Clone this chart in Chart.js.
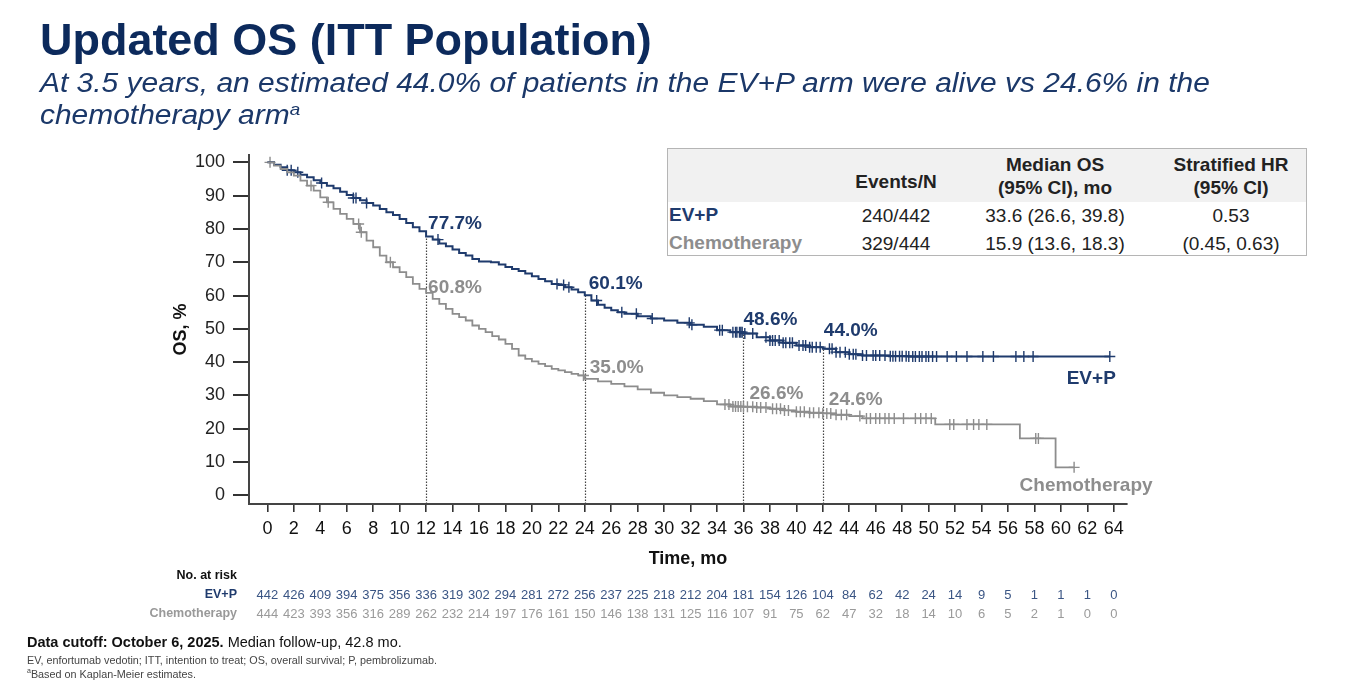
<!DOCTYPE html>
<html><head><meta charset="utf-8">
<script src="https://cdn.jsdelivr.net/npm/chart.js@4.4.1/dist/chart.umd.min.js"></script>
<style>
html,body{margin:0;padding:0;background:#fff;}
body{width:1348px;height:680px;position:relative;overflow:hidden;font-family:"Liberation Sans",Arial,Helvetica,sans-serif;}
#c{position:absolute;left:0;top:0;}
.t{position:absolute;white-space:nowrap;}
#title{left:40px;top:15px;font-size:44px;font-weight:bold;color:#0c2a5c;line-height:50px;transform-origin:0 0;}
.sub{left:40px;font-size:27px;font-style:italic;color:#1b3869;line-height:30px;transform-origin:0 0;}
#sub1{top:68px;}
#sub2{top:100px;}
.sub sup{font-size:17px;vertical-align:9px;line-height:0;}
#stats{position:absolute;left:667px;top:148px;width:640px;height:108px;border:1.5px solid #b5b5b5;box-sizing:border-box;background:#fff;}
#stats .hd{position:absolute;left:0;top:0;width:100%;height:53px;background:#f1f1f1;}
.st{position:absolute;white-space:nowrap;font-size:19px;color:#222;transform:translate(-50%,-50%);text-align:center;line-height:23px;}
.sb{font-weight:bold;}
.rl{position:absolute;white-space:nowrap;font-size:19px;font-weight:bold;transform:translateY(-50%);}
.risk{position:absolute;white-space:nowrap;font-size:13px;transform:translate(-50%,-50%);}
.rlab{position:absolute;white-space:nowrap;font-size:12.5px;font-weight:bold;transform:translate(-100%,-50%);}
#foot1{left:27px;top:634px;font-size:14.5px;color:#111;}
#foot2{left:27px;top:654px;font-size:10.8px;color:#444;}
#foot3{left:27px;top:667px;font-size:10.8px;color:#444;}
</style>
</head><body>
<canvas id="c" width="1348" height="680"></canvas>
<div class="t" id="title">Updated OS (ITT Population)</div>
<div class="t sub" id="sub1">At 3.5 years, an estimated 44.0% of patients in the EV+P arm were alive vs 24.6% in the</div>
<div class="t sub" id="sub2">chemotherapy arm<sup>a</sup></div>
<div id="stats"><div class="hd"></div></div>
<div class="t" id="foot1"><b>Data cutoff: October 6, 2025.</b> Median follow-up, 42.8 mo.</div>
<div class="t" id="foot2">EV, enfortumab vedotin; ITT, intention to treat; OS, overall survival; P, pembrolizumab.</div>
<div class="t" id="foot3"><sup style="font-size:7px">a</sup>Based on Kaplan-Meier estimates.</div>
<script>
// ---------- DATA ----------
const armNames = ["EV+P", "Chemotherapy"];
const evTime = [0,0.5,1,1.5,2,2.5,3,3.5,4,4.5,5,5.5,6,6.5,7,7.5,8,8.5,9,9.5,10,10.5,11,11.5,12,12.5,13,13.5,14,14.5,15,15.5,16,16.9,17.5,18,18.5,19,19.5,20,20.5,21,21.5,22,22.5,23,23.5,24,24.5,25,25.5,26,26.5,27,28,29,30,31,32,33,34,35,36,37,38,39,40,41,42,43,44,45,47,48.5,63.7];
const evSurv = [100,99.3,98.5,97.6,97,96.3,95.5,94.6,93.8,93,92.2,91.2,90.2,89.3,88.6,87.8,87,86,85,84.2,83,81.8,80.5,79.3,77.7,76.8,75.6,74.8,73.8,72.8,72,71,70.2,70,69.3,68.6,68,67.4,66.6,65.8,65,64.3,63.5,63.2,62.5,61.8,61,60.1,58.5,57.2,56.3,55.6,55,54.5,53.8,53.1,52.5,51.8,51.2,50.6,49.6,49,48.6,47.5,46.5,45.8,45,44.5,44,43,42.4,42,41.8,41.7,41.7];
const chemoTime = [0,0.5,1,1.5,2,2.5,3,3.5,4,4.5,5,5.5,6,6.5,7,7.5,8,8.5,9,9.5,10,10.5,11,11.5,12,12.5,13,13.5,14,14.5,15,15.5,16,16.5,17,17.5,18,18.5,19,19.5,20,20.5,21,21.5,22,22.5,23,23.5,24,25,26,27,28,29,30,31,32,33,34,35,36,37,38,39,40,41,42,43,44,45,50.5,56.9,59.6,61];
const chemoSurv = [100,99,98,97,96,94.5,93,91.5,89.5,88,86,84.5,83,81.5,79,76.5,74.5,72,70,68.5,67,65.5,63.5,62,60.8,59,57.5,56,54.5,53.5,52.5,51,50,49,47.8,46.8,45.5,44,42,41,40.2,39.5,38.8,38,37.5,37,36.5,36,35,34.2,33.5,32.7,31.8,30.8,30,29.5,29,28.3,27.3,26.7,26.6,26.4,26,25.5,25.1,24.8,24.6,24.2,23.8,23.1,21.3,17.1,8.4,8.4];
const evCensor = [1.5,1.8,2.3,4.1,6.5,6.7,7.5,12.9,21.9,22.4,22.8,24.9,26.8,27.9,29.1,31.9,32.1,34.2,34.4,35.2,35.4,35.5,35.7,35.8,35.9,36.1,36.7,37.7,38,38.2,38.4,38.7,39,39.2,39.5,39.7,40.2,40.5,40.7,41,41.2,41.5,41.8,42.5,42.7,43,43.3,43.7,44,44.3,44.5,45,45.3,45.8,46,46.3,46.7,47.1,47.3,47.5,47.8,48,48.3,48.5,48.8,49,49.3,49.5,49.8,50,50.3,50.6,51.4,52.1,52.9,54.1,54.9,56.6,57.2,57.9,63.7];
const chemoCensor = [0.2,3.3,4.6,6.9,7.1,9.3,23.9,34.6,34.9,35.2,35.4,35.6,35.8,36,36.3,36.7,37,37.3,37.7,38.2,38.5,38.8,39.1,39.4,40,40.3,40.6,41,41.3,41.7,42,42.3,42.6,43,43.4,43.8,44.8,45.3,45.6,46,46.3,46.7,47,47.4,48.1,49,49.4,49.8,50.2,51.6,51.9,52.9,53.4,53.8,54.4,58.1,58.3,61];
const landmarkTime = [12,24,36,42];
const landmarkEV = [77.7,60.1,48.6,44.0];
const landmarkChemo = [60.8,35.0,26.6,24.6];
const xTicks = [0,2,4,6,8,10,12,14,16,18,20,22,24,26,28,30,32,34,36,38,40,42,44,46,48,50,52,54,56,58,60,62,64];
const yTicks = [0,10,20,30,40,50,60,70,80,90,100];
const riskEV = [442,426,409,394,375,356,336,319,302,294,281,272,256,237,225,218,212,204,181,154,126,104,84,62,42,24,14,9,5,1,1,1,0];
const riskChemo = [444,423,393,356,316,289,262,232,214,197,176,161,150,146,138,131,125,116,107,91,75,62,47,32,18,14,10,6,5,2,1,0,0];
const statsHeader = ["Events/N", "Median OS\n(95% CI), mo", "Stratified HR\n(95% CI)"];
const statsEV = ["240/442", "33.6 (26.6, 39.8)", "0.53"];
const statsChemo = ["329/444", "15.9 (13.6, 18.3)", "(0.45, 0.63)"];

// ---------- STYLE ----------
const NAVY = "#1f3b6d", GRAY = "#8d8d8d";
const FONT = '"Liberation Sans", Arial, sans-serif';

function survAt(times, surv, t) {
  let v = surv[0];
  for (let i = 0; i < times.length; i++) { if (times[i] <= t) v = surv[i]; else break; }
  return v;
}
const toPts = (ts, ss) => ts.map((t, i) => ({x: t, y: ss[i]}));

// stats table
(function(){
  const box = document.getElementById('stats');
  const colX = [228, 387, 563];   // column centres inside box
  statsHeader.forEach((h, i) => {
    const d = document.createElement('div'); d.className = 'st sb';
    d.innerHTML = h.replace('\n', '<br>');
    d.style.left = colX[i] + 'px'; d.style.top = (h.includes('\n') ? 27 : 32) + 'px';
    box.appendChild(d);
  });
  [[statsEV, 66, NAVY], [statsChemo, 94, GRAY]].forEach(([row, y, col], r) => {
    const l = document.createElement('div'); l.className = 'rl';
    l.textContent = armNames[r]; l.style.left = '1px'; l.style.top = y + 'px'; l.style.color = col;
    box.appendChild(l);
    row.forEach((v, i) => {
      const d = document.createElement('div'); d.className = 'st';
      d.textContent = v; d.style.left = colX[i] + 'px'; d.style.top = y + 'px';
      box.appendChild(d);
    });
  });
})();

const annot = {
  id: 'annot',
  beforeDatasetsDraw(chart) {
    const {ctx, chartArea, scales: {x, y}} = chart;
    ctx.save();
    ctx.strokeStyle = '#444'; ctx.lineWidth = 1.2; ctx.setLineDash([1.5, 1.5]);
    landmarkTime.forEach((t, i) => {
      const px = Math.round(x.getPixelForValue(t)) + 0.5;
      ctx.beginPath(); ctx.moveTo(px, chartArea.bottom); ctx.lineTo(px, y.getPixelForValue(landmarkEV[i])); ctx.stroke();
    });
    ctx.restore();
  },
  afterDatasetsDraw(chart) {
    const {ctx, scales: {x, y}} = chart;
    ctx.save();
    ctx.font = 'bold 19px ' + FONT; ctx.textBaseline = 'middle'; ctx.textAlign = 'left';
    const evOff = [[2,-13],[4,-11],[0,-14],[1,-18]];
    const chOff = [[2,-5],[5,-11],[6,-13],[6,-14]];
    landmarkTime.forEach((t, i) => {
      ctx.fillStyle = NAVY;
      ctx.fillText(landmarkEV[i].toFixed(1) + '%', x.getPixelForValue(t) + evOff[i][0], y.getPixelForValue(landmarkEV[i]) + evOff[i][1]);
      ctx.fillStyle = GRAY;
      ctx.fillText(landmarkChemo[i].toFixed(1) + '%', x.getPixelForValue(t) + chOff[i][0], y.getPixelForValue(landmarkChemo[i]) + chOff[i][1]);
    });
    // arm labels near curve ends
    const evEnd = evTime.length - 1, chEnd = chemoTime.length - 1;
    ctx.fillStyle = NAVY; ctx.textAlign = 'right';
    ctx.fillText(armNames[0], x.getPixelForValue(evTime[evEnd]) + 6, y.getPixelForValue(evSurv[evEnd]) + 22);
    ctx.fillStyle = GRAY; ctx.textAlign = 'center';
    ctx.fillText(armNames[1], x.getPixelForValue(chemoTime[chEnd]) + 12, y.getPixelForValue(chemoSurv[chEnd]) + 18);
    ctx.restore();
  }
};

const chart = new Chart(document.getElementById('c'), {
  type: 'scatter',
  data: {
    datasets: [
      {data: toPts(chemoTime, chemoSurv), showLine: true, stepped: 'before', borderColor: GRAY, borderWidth: 1.8, pointRadius: 0},
      {data: toPts(evTime, evSurv), showLine: true, stepped: 'before', borderColor: NAVY, borderWidth: 2, pointRadius: 0},
      {data: chemoCensor.map(t => ({x: t, y: survAt(chemoTime, chemoSurv, t)})), showLine: false, pointStyle: 'cross', pointRadius: 5.5, borderColor: GRAY, borderWidth: 1.4, backgroundColor: GRAY},
      {data: evCensor.map(t => ({x: t, y: survAt(evTime, evSurv, t)})), showLine: false, pointStyle: 'cross', pointRadius: 5.5, borderColor: NAVY, borderWidth: 1.4, backgroundColor: NAVY}
    ]
  },
  options: {
    responsive: false, animation: false,
    layout: {padding: {left: 151, right: 221, top: 155, bottom: 106}},
    plugins: {legend: {display: false}, tooltip: {enabled: false}},
    scales: {
      x: {
        type: 'linear', min: -1.39, max: 65.0,
        afterBuildTicks: s => { s.ticks = xTicks.map(v => ({value: v})); },
        afterFit: s => { s.height = 70; },
        grid: {drawOnChartArea: false, drawTicks: true, tickLength: 8, color: '#333', lineWidth: 1.6},
        border: {display: true, color: '#444', width: 2},
        ticks: {font: {size: 18, family: FONT}, color: '#111', padding: 6, maxRotation: 0, autoSkip: false},
        title: {display: true, text: 'Time, mo', font: {size: 18, weight: 'bold', family: FONT}, color: '#111', padding: {top: 0, bottom: 4}}
      },
      y: {
        type: 'linear', min: -2.6, max: 102.2,
        afterBuildTicks: s => { s.ticks = yTicks.map(v => ({value: v})); },
        afterFit: s => { s.width = 98; },
        grid: {drawOnChartArea: false, drawTicks: true, tickLength: 16, color: '#333', lineWidth: 2},
        border: {display: true, color: '#444', width: 2},
        ticks: {font: {size: 18, family: FONT}, color: '#222', padding: 8},
        title: {display: true, text: 'OS, %', font: {size: 18, weight: 'bold', family: FONT}, color: '#111', padding: {top: 19, bottom: 0}}
      }
    }
  },
  plugins: [annot]
});

// number-at-risk table placed through the x scale
(function(){
  const xs = chart.scales.x;
  const add = (cls, txt, left, top, color) => {
    const d = document.createElement('div'); d.className = cls; d.textContent = txt;
    d.style.left = left + 'px'; d.style.top = top + 'px'; d.style.color = color;
    document.body.appendChild(d);
  };
  add('rlab', 'No. at risk', 237, 575, '#111');
  add('rlab', armNames[0], 237, 594, NAVY);
  add('rlab', armNames[1], 237, 613, '#999');
  xTicks.forEach((t, i) => {
    const px = xs.getPixelForValue(t);
    add('risk', String(riskEV[i]), px, 594, '#3a5584');
    add('risk', String(riskChemo[i]), px, 613, '#9a9a9a');
  });
  // fit header text widths to the reference
  const fit = (id, w) => { const e = document.getElementById(id); e.style.transform = 'scaleX(' + (w / e.offsetWidth) + ')'; };
  fit('title', 612); fit('sub1', 1170);
  const s2 = document.getElementById('sub2'); s2.style.transform = document.getElementById('sub1').style.transform;
})();
</script>
</body></html>
